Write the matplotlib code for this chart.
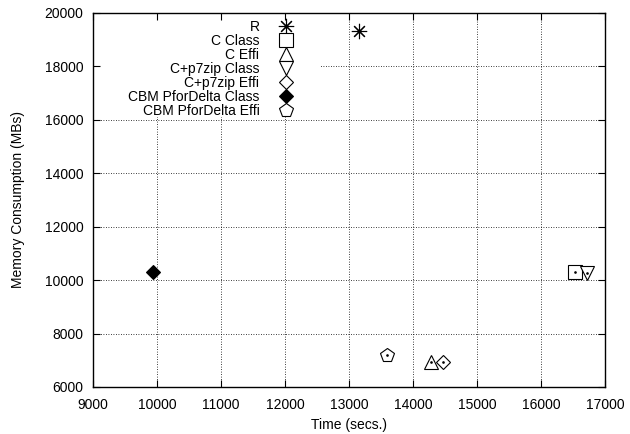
import matplotlib
matplotlib.use("Agg")
import matplotlib.pyplot as plt
from matplotlib.patches import Rectangle

plt.rcParams['font.family'] = ['Liberation Sans', 'DejaVu Sans']

series = ["R", "C Class", "C Effi", "C+p7zip Class", "C+p7zip Effi",
          "CBM PforDelta Class", "CBM PforDelta Effi"]
times = [13150, 16530, 14280, 16720, 14470, 9940, 13590]
memory = [19320, 10320, 6950, 10250, 6920, 10320, 7200]
markers = [(8, 2, 0), "s", "^", "v", "D", "D", "p"]
filled = [False, False, False, False, False, True, False]
sizes = [11, 9.5, 9.5, 9.5, 7.5, 7.5, 10]

xticks = [9000, 10000, 11000, 12000, 13000, 14000, 15000, 16000, 17000]
yticks = [6000, 8000, 10000, 12000, 14000, 16000, 18000, 20000]

fig = plt.figure(figsize=(6.3, 4.34), dpi=100)
ax = fig.add_axes([93/630, 1-387/434, 512/630, 374/434])

grid_style = dict(color='black', linestyle=(0, (1, 2)), linewidth=0.6, zorder=0.5)
for xv in xticks:
    ax.axvline(xv, **grid_style)
for yv in yticks:
    ax.axhline(yv, **grid_style)

# opaque key area (hides grid behind the key, like the original)
ax.add_patch(Rectangle((0, 0.722), 0.443, 0.278, transform=ax.transAxes,
                       facecolor='white', edgecolor='none', zorder=1))

handles = []
for name, t, m, mk, f, s in zip(series, times, memory, markers, filled, sizes):
    h, = ax.plot([t], [m], linestyle='none', marker=mk, markersize=s,
                 markerfacecolor='black' if f else 'white',
                 markeredgecolor='black', markeredgewidth=0.8, label=name, zorder=3)
    if not f and name != "R":
        ax.plot([t], [m], linestyle='none', marker='o', markersize=0.9,
                color='black', zorder=4)
    handles.append(h)

ax.set_xlim(9000, 17000)
ax.set_ylim(6000, 20000)
ax.set_xticks(xticks)
ax.set_yticks(yticks)
ax.tick_params(direction='in', top=True, right=True, length=5, width=0.8,
               labelsize=10)
ax.tick_params(axis='x', pad=8)
ax.tick_params(axis='y', pad=7)
for sp in ax.spines.values():
    sp.set_linewidth(1.0)

ax.set_xlabel("Time (secs.)", fontsize=10, labelpad=4)
ax.set_ylabel("Memory Consumption (MBs)", fontsize=10, labelpad=14)

leg = ax.legend(handles=handles, loc='upper right', bbox_to_anchor=(0.4065, 1.0),
                markerfirst=False, frameon=False,
                fontsize=10, labelspacing=0.0, handlelength=1.2,
                handletextpad=1.3, borderpad=0.3, borderaxespad=0.2)
leg.set_zorder(5)

fig.savefig("out.png", dpi=100)
